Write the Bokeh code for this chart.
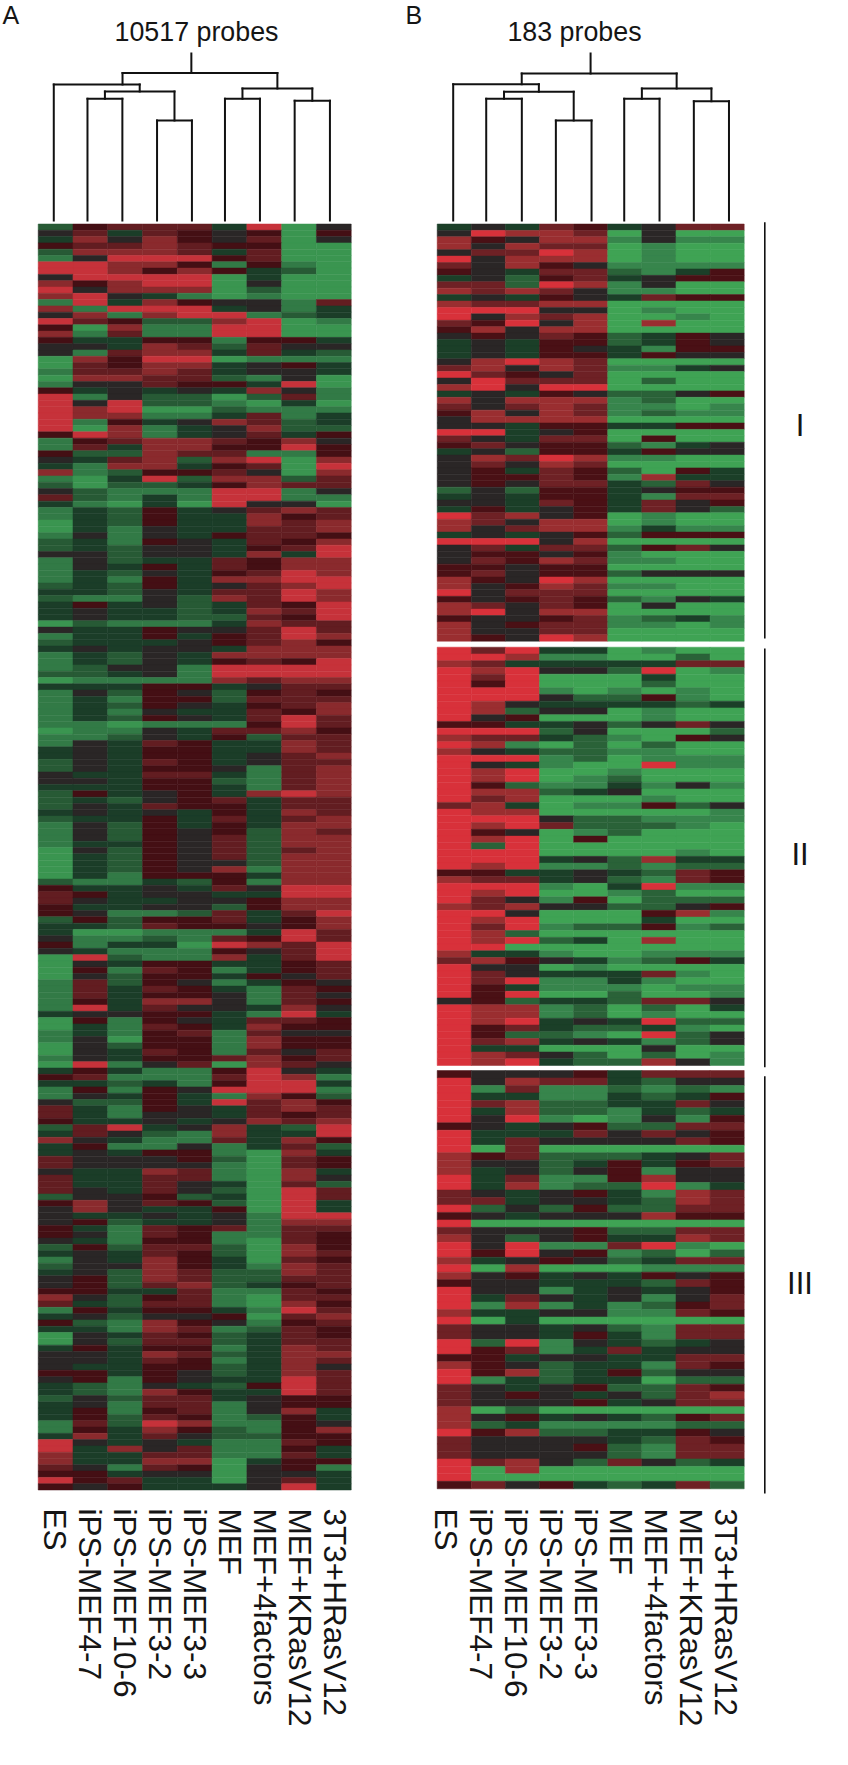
import math
from bokeh.plotting import figure
from bokeh.layouts import row
from bokeh.models import ColumnDataSource, Range1d, LinearColorMapper
from bokeh.core.properties import value
from bokeh.embed import file_html
from bokeh.resources import INLINE

samples = ["ES", "iPS-MEF4-7", "iPS-MEF10-6", "iPS-MEF3-2", "iPS-MEF3-3", "MEF",
           "MEF+4factors", "MEF+KRasV12", "3T3+HRasV12"]

# expression level per probe band: 0 full green, 4 neutral, 8 full red
A_upper = """
256663804 463654505 374754604 566765500 277763600 148885600 887751510 887575320 488880300 757880400
847770200 784310100 183754416 718883413 471788123 865227801 507118800 716118800 533551553 443762644
416773632 075880111 065773453 166763443 077662140 144655380 534343741 814220261 848221030 878002111
877113613 815347623 807134722 587134635 156776574 163775585 522766115 436727807 317735608 712556407
103827726 202235766 421118814 621318811 310308440 132534676 132533756 032533767 031433667 141435665
231543657 232443568 442443738 142336577 143536577 132435687 131537788 232534678 332436687 211427687
353423658 343323768 343322658 021113766 433544686 133535687 233345675
""".split()
A_middle = """
343443777 132437777 132435658 124418888 223418888 011117677 333553466 142542565 131552666 132543567
131433657 132543686 110111586 011436675 112435266 143653376 343553376 343553467 243653466 243554167
433663167 443552167 333553167 253453787 232456366 243655366 343435376 233536367 142535377 142545276
142546277 133546277 042546267 032546277 032544277 032547177 031555377 211325177 533436488 653443388
643344577 533442577 541126368 252556357 332655457 300111386 411216586 513308768 431115468 082117368
043553356 051651356 042553546 162541354 163653165 163554164 153774165 183644374 344553183 051543665
031653755 131561644 140551755 042551755 043651646 143556756 081460764 353115843 561116871 332315883
151548881
""".split()
A_lower = """
143531752 422538675 631543676 631443656 533434767 268347328 364217338 743116375 351141362 343551073
644452065 644441065 433761073 633661074 633643062 643642086 244523086 574652083 474335083 433434188
452334177 531656166 541651165 431551065 252662075 343652076 143753065 244753176 342762276 452762266
452672356 553361165 742561066 632661075 153553186 342445067 521754156 331761265 043652365 042662366
353551376 443762377 443651376 433552374 553542376 451543386 321432586 321753386 242663455 341661455
351561473 352651253 162871154 153752157 373642255 843431165 837461153 733661163 733770355 641650451
553440443 856330463 545333483
""".split()

B_I = """
343653466 487760400 754771411 747660100 466870100 847770100 647541111 543662135 342563455 662871400
767641100 343543655 766770000 888440100 847670010 658470700 574770000 454652354 343552354 343543155
343553544 478760000 674761134 865460000 486660200 784880000 343542245 747771200 646761101 574761211
477770000 443553355 883450000 643660500 564552134 342553544 476871100 464760000 453652053 455651733
454663264 242553455 343553166 443653645 353453642 867450100 764770100 746771311 343452555 888470000
463662564 455451000 465761100 554550000 564552444 754870000 745761100 846660000 545652143 764650400
784770000 544561231 745661101 744660000 754870000
""".split()
B_II = """
868330100 887110020 763333366 878442801 868000300 858000200 888101010 888422510 874333323 872440100
845000100 553342464 888240002 766321054 871020200 743221100 888120111 843100811 878001000 878012000
852113141 877234000 867000100 673011524 877000001 888422111 878622210 854012000 878050000 828000000
888000010 888342733 878112122 553343265 766342165 888103811 878001200 864150222 767442245 884000571
878000300 868122512 872000000 878230700 880000000 733100111 675431253 844010000 864333610 868113100
853111011 858002001 452332664 877120203 877120100 878343822 856322310 852210824 867343124 833000400
876420201 878322741
""".split()
B_III = """
544453666 847663244 816112121 833113235 867223364 837221323 848101415 543452266 833364645 836444465
806000000 756222346 744235356 734245144 836115744 837122813 643453176 663443276 824252266 543444755
800000000 644452266 742453376 848116810 858451202 734542366 807000111 745343545 544333265 844134345
836434146 817131256 733441165 803000000 644342166 644353166 828143234 856136344 553443366 754233165
857235244 813233022 643452265 645434267 644453466 702000000 745343256 723111122 857223354 644443265
644452166 644442166 867426423 807000000 800000000 564532362
""".split()

# dendrogram: leaf position in column units and y of each merge, top to bottom of the tree
A_leaves = [0.448, 1.417, 2.42, 3.417, 4.42, 5.37, 6.376, 7.374, 8.388]
B_leaves = [0.469, 1.437, 2.481, 3.479, 4.525, 5.483, 6.518, 7.524, 8.554]
A_merges = {"root": 72.5, "left": 84, "ips": 91, "ips_a": 98.3, "ips_b": 120, "right": 88, "mef": 98.3, "ras": 100.3}
B_merges = {"root": 73, "left": 83.7, "ips": 91.3, "ips_a": 98.3, "ips_b": 120, "right": 88, "mef": 98.3, "ras": 100.7}

palette_b = ["#3fa354", "#37854c", "#2a6238", "#1b3f28", "#2a2626", "#4a1015", "#6e2125", "#9a2e30", "#d8313a"]
palette_a = ["#3a9550", "#327a46", "#275a35", "#1b3d28", "#2a2626", "#440f14", "#621d21", "#8a2a2d", "#c6323a"]
BLACK = "#111111"
FONT = "Liberation Sans"
FH = 1765


def panel(left_px, col_w, width, origin):
    p = figure(width=width, height=FH, output_backend="svg", toolbar_location=None,
               x_range=Range1d((origin - left_px) / col_w, (origin + width - left_px) / col_w),
               y_range=Range1d(FH, 0), min_border=0, outline_line_color=None,
               background_fill_color="white", border_fill_color="white")
    p.axis.visible = False
    p.grid.visible = False
    return p


def heat(p, rows, top, bottom, palette):
    h = (bottom - top) / len(rows)
    mapper = LinearColorMapper(palette=palette, low=-0.5, high=8.5)
    L, R, T, B, V = [], [], [], [], []
    for i, r in enumerate(rows):
        for j, c in enumerate(r):
            L.append(j); R.append(j + 1)
            T.append(top + i * h); B.append(top + (i + 1) * h)
            V.append(int(c))
    src = ColumnDataSource(dict(l=L, r=R, t=T, b=B, v=V))
    p.quad(left="l", right="r", top="t", bottom="b", source=src,
           fill_color={"field": "v", "transform": mapper},
           line_color={"field": "v", "transform": mapper}, line_width=0.5)


def dendro(p, leaves, m, stem_top, leaf_y):
    xs, ys = [], []

    def node(members):
        return sum(leaves[k] for k in members) / len(members)

    def seg(x0, y0, x1, y1):
        xs.append([x0, x1]); ys.append([y0, y1])

    def merge(a, ya, b, yb, y):
        xa, xb = node(a), node(b)
        seg(xa, y, xb, y)
        seg(xa, y, xa, ya)
        seg(xb, y, xb, yb)

    merge([1], leaf_y, [2], leaf_y, m["ips_a"])
    merge([3], leaf_y, [4], leaf_y, m["ips_b"])
    merge([1, 2], m["ips_a"], [3, 4], m["ips_b"], m["ips"])
    merge([0], leaf_y, [1, 2, 3, 4], m["ips"], m["left"])
    merge([5], leaf_y, [6], leaf_y, m["mef"])
    merge([7], leaf_y, [8], leaf_y, m["ras"])
    merge([5, 6], m["mef"], [7, 8], m["ras"], m["right"])
    merge([0, 1, 2, 3, 4], m["left"], [5, 6, 7, 8], m["right"], m["root"])
    rootx = node(list(range(9)))
    seg(rootx, stem_top, rootx, m["root"])
    p.multi_line(xs, ys, line_color=BLACK, line_width=2, line_cap="square")


def text(p, x, y, t, size, align="left", angle=0.0):
    # anchored on the middle of the text; x and y are the centre line of the capitals
    p.text([x], [y], text=[t], text_font=value(FONT), text_font_size=f"{size}px",
           text_align=align, text_baseline="middle", text_color="#151515", angle=angle)


def labels(p, first_x, step):
    for i, s in enumerate(samples):
        text(p, first_x + i * step, 1508, s, 31.5, "left", -math.pi / 2)


# panel A: window pixels 0..424
LA, CA = 37.7, 34.78
pa = panel(LA, CA, 424, 0)
heat(pa, A_upper + A_middle + A_lower, 223.5, 1489.5, palette_a)
dendro(pa, A_leaves, A_merges, 53, 220)
text(pa, (196 - LA) / CA, 31, "10517 probes", 26.8, "center")
text(pa, (2 - LA) / CA, 14, "A", 25)
text(pa, (405 - LA) / CA, 14, "B", 25)
labels(pa, (54.8 - LA) / CA, 35 / CA)

# panel B: window pixels 424..848
LB, CB = 436.7, 34.11
pb = panel(LB, CB, 424, 424)
heat(pb, B_I, 223.5, 640.7, palette_b)
heat(pb, B_II, 646.7, 1065, palette_b)
heat(pb, B_III, 1070, 1488.3, palette_b)
dendro(pb, B_leaves, B_merges, 53, 220)
text(pb, (574 - LB) / CB, 31, "183 probes", 26.8, "center")
labels(pb, (445.5 - LB) / CB, 35 / CB)
bar_x = (764.3 - LB) / CB
pb.multi_line([[bar_x, bar_x]] * 3, [[221.7, 638], [648, 1066.7], [1075.7, 1493]], line_color=BLACK, line_width=1.6)
rom_x = (799.5 - LB) / CB
text(pb, rom_x, 425, "I", 31, "center")
text(pb, rom_x, 854, "II", 31, "center")
text(pb, rom_x, 1283, "III", 31, "center")

layout = row(pa, pb, spacing=0)
open("out.html", "w").write(file_html(layout, INLINE))
